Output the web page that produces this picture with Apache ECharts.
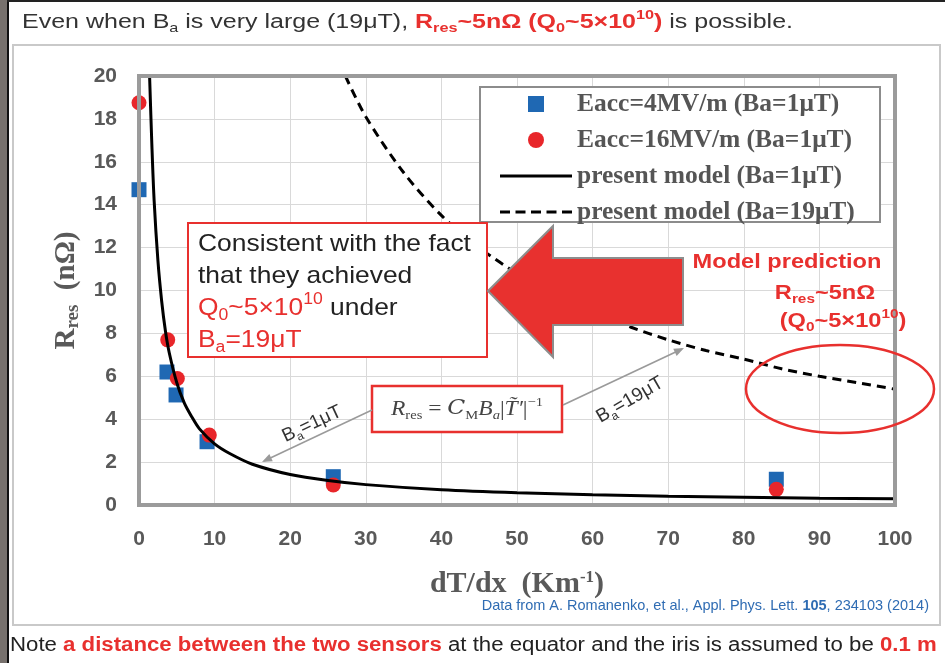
<!DOCTYPE html>
<html><head><meta charset="utf-8">
<script src="https://cdn.jsdelivr.net/npm/echarts@6/dist/echarts.min.js"></script>
<style>html,body{margin:0;padding:0;background:#fff}#c{width:945px;height:663px}</style>
</head><body><div id="c"></div>
<script>
// ---- data ----
const blueX = [0, 3.7, 4.9, 9.0, 25.7, 84.3];
const blueY = [14.7, 6.2, 5.13, 2.95, 1.32, 1.2];
const redX = [0, 3.8, 5.07, 9.3, 25.7, 84.3];
const redY = [18.75, 7.7, 5.9, 3.26, 0.93, 0.73];
const solidX = [1.4, 1.7, 2, 2.5, 3, 3.5, 4, 5, 6, 7, 8, 10, 12, 15, 20, 25, 30, 40, 50, 60, 70, 80, 90, 100];
const solidY = [20, 16.8, 14.2, 11.4, 9.5, 8.1, 7.1, 5.7, 4.75, 4.1, 3.55, 2.85, 2.4, 1.9, 1.42, 1.14, 0.95, 0.71, 0.57, 0.48, 0.41, 0.36, 0.32, 0.29];
const dashX = [27.3, 30, 35, 40, 45, 50, 55, 60, 65, 70, 75, 80, 85, 90, 95, 100];
const dashY = [20, 18.1, 15.5, 13.5, 12.0, 10.8, 9.85, 9.0, 8.3, 7.7, 7.2, 6.8, 6.35, 6.0, 5.7, 5.4];
const seriesNames = ['Eacc=4MV/m (Ba=1μT)', 'Eacc=16MV/m (Ba=1μT)', 'present model (Ba=1μT)', 'present model (Ba=19μT)'];
const xMin = 0, xMax = 100, xStep = 10;
const yMin = 0, yMax = 20, yStep = 2;

const zip = (a, b) => a.map((v, i) => [v, b[i]]);
const RED = '#e8302e';
const SANS = 'Liberation Sans, Arial, sans-serif';
const SERIF = 'Liberation Serif, Times New Roman, serif';

const chart = echarts.init(document.getElementById('c'));
function subStyles(fs, color, weight) {
  const sm = Math.round(fs * 0.65);
  const mk = (c, w, size, lh, va) => ({fontSize: size, fill: c, fontWeight: w, fontFamily: SANS, lineHeight: lh, verticalAlign: va});
  return {
    t: mk(color, weight, fs, fs + 6, 'middle'),
    s: mk(color, weight, sm, sm, 'bottom'),
    p: mk(color, weight, sm, sm, 'top'),
    rt: mk(RED, 'bold', fs, fs + 6, 'middle'),
    rs: mk(RED, 'bold', sm, sm, 'bottom'),
    rp: mk(RED, 'bold', sm, sm, 'top'),
    rn: mk(RED, 'normal', fs, fs + 6, 'middle'),
    rns: mk(RED, 'normal', sm, sm, 'bottom'),
    rnp: mk(RED, 'normal', sm, sm, 'top')
  };
}

function arrowHead(x1, y1, x2, y2, len, w) {
  const a = Math.atan2(y2 - y1, x2 - x1);
  const bx = x2 - len * Math.cos(a), by = y2 - len * Math.sin(a);
  const px = -Math.sin(a) * w, py = Math.cos(a) * w;
  return [[x2, y2], [bx + px, by + py], [bx - px, by - py]];
}

const boxRich = subStyles(24, '#222', 'normal');
boxRich.t.lineHeight = 32; boxRich.rn.lineHeight = 32;

const graphics = [
  // slide frame decorations
  {type: 'rect', shape: {x: 0, y: 0, width: 7, height: 663}, style: {fill: '#77716d'}, z: 1},
  {type: 'rect', shape: {x: 7, y: 0, width: 2, height: 663}, style: {fill: '#111'}, z: 1},
  {type: 'rect', shape: {x: 7, y: 0, width: 938, height: 2}, style: {fill: '#222'}, z: 1},
  {type: 'rect', shape: {x: 13, y: 45, width: 927, height: 580}, style: {fill: 'none', stroke: '#c9c9c9', lineWidth: 2}, z: 1},
  // title
  {type: 'text', x: 22, y: 22, scaleX: 1.25, z: 10, style: {
    text: '{t|Even when B}{s|a}{t| is very large (19μT), }{rt|R}{rs|res}{rt|~5nΩ (Q}{rs|0}{rt|~5×10}{rp|10}{rt|)}{t| is possible.}',
    rich: subStyles(20, '#333', 'normal'), verticalAlign: 'middle'}},
  // bottom note
  {type: 'text', x: 10, y: 645, scaleX: 1.11, z: 10, style: {
    text: '{t|Note }{rt|a distance between the two sensors}{t| at the equator and the iris is assumed to be }{rt|0.1 m}',
    rich: subStyles(20, '#222', 'normal'), verticalAlign: 'middle'}},
  // data source
  {type: 'text', x: 929, y: 606, z: 10, style: {
    text: '{a|Data from A. Romanenko, et al., Appl. Phys. Lett. }{b|105}{a|, 234103 (2014)}',
    align: 'right', verticalAlign: 'middle',
    rich: {a: {fontSize: 14.5, fontFamily: SANS, fill: '#2f6cb3'}, b: {fontSize: 14.5, fontFamily: SANS, fill: '#2f6cb3', fontWeight: 'bold'}}}},
  // legend box
  {type: 'rect', shape: {x: 480, y: 87, width: 400, height: 135}, style: {fill: '#fff', stroke: '#8c8c8c', lineWidth: 2}, z: 3},
  // consistent box
  {type: 'rect', shape: {x: 188, y: 223, width: 299, height: 134}, style: {fill: '#fff', stroke: RED, lineWidth: 2}, z: 6},
  {type: 'text', x: 198, y: 228, scaleX: 1.1, z: 7, style: {
    text: '{t|Consistent with the fact}\n{t|that they achieved}\n{rn|Q}{rns|0}{rn|~5×10}{rnp|10}{t| under}\n{rn|B}{rns|a}{rn|=19μT}',
    rich: boxRich}},
  // big arrow
  {type: 'polygon', shape: {points: [[488, 291], [553, 226], [553, 258], [683, 258], [683, 325], [553, 325], [553, 357]]},
    style: {fill: '#e8312f', stroke: '#8d8d8d', lineWidth: 2}, z: 6},
  // model prediction
  {type: 'text', x: 787, y: 262, scaleX: 1.18, z: 7, style: {text: 'Model prediction', fill: RED, font: 'bold 20px ' + SANS, align: 'center', verticalAlign: 'middle'}},
  {type: 'text', x: 825, y: 293, scaleX: 1.18, z: 7, style: {text: '{rt|R}{rs|res}{rt|~5nΩ}', rich: subStyles(20, RED, 'bold'), align: 'center', verticalAlign: 'middle'}},
  {type: 'text', x: 843, y: 321, scaleX: 1.18, z: 7, style: {text: '{rt|(Q}{rs|0}{rt|~5×10}{rp|10}{rt|)}', rich: subStyles(20, RED, 'bold'), align: 'center', verticalAlign: 'middle'}},
  {type: 'ellipse', shape: {cx: 840, cy: 389, rx: 94, ry: 44}, style: {fill: 'none', stroke: RED, lineWidth: 2.5}, z: 7},
  // formula box
  {type: 'rect', shape: {x: 372, y: 386, width: 190, height: 46}, style: {fill: '#fff', stroke: RED, lineWidth: 2.5}, z: 6},
  {type: 'text', x: 467, y: 409, scaleX: 1.12, z: 7, style: {
    text: '{i|R}{s|res}{n| = }{c|C}{s|M}{i|B}{si|a}{n||}{i|T̃′}{n||}{p|−1}',
    align: 'center', verticalAlign: 'middle',
    rich: {
      i: {fontSize: 21, fontStyle: 'italic', fontFamily: SERIF, fill: '#444', lineHeight: 26, verticalAlign: 'middle'},
      c: {fontSize: 21, fontStyle: 'italic', fontFamily: 'DejaVu Serif, serif', fill: '#444', lineHeight: 26, verticalAlign: 'middle'},
      n: {fontSize: 21, fontFamily: SERIF, fill: '#444', lineHeight: 26, verticalAlign: 'middle'},
      s: {fontSize: 13, fontFamily: SERIF, fill: '#444', lineHeight: 13, verticalAlign: 'bottom'},
      si: {fontSize: 13, fontStyle: 'italic', fontFamily: SERIF, fill: '#444', lineHeight: 13, verticalAlign: 'bottom'},
      p: {fontSize: 13, fontFamily: SERIF, fill: '#444', lineHeight: 13, verticalAlign: 'top'}
    }}},
  // gray pointer arrows
  {type: 'line', shape: {x1: 372, y1: 410, x2: 264, y2: 461}, style: {stroke: '#9a9a9a', lineWidth: 1.5}, z: 6},
  {type: 'polygon', shape: {points: arrowHead(372, 410, 262, 462, 10, 4)}, style: {fill: '#9a9a9a'}, z: 6},
  {type: 'line', shape: {x1: 563, y1: 405, x2: 682, y2: 349}, style: {stroke: '#9a9a9a', lineWidth: 1.5}, z: 6},
  {type: 'polygon', shape: {points: arrowHead(563, 405, 684, 348, 10, 4)}, style: {fill: '#9a9a9a'}, z: 6},
  // rotated labels
  {type: 'text', x: 312, y: 424, rotation: 25 * Math.PI / 180, z: 7, style: {text: '{t|B}{s|a}{t|=1μT}', rich: subStyles(19, '#333', 'normal'), align: 'center', verticalAlign: 'middle'}},
  {type: 'text', x: 630, y: 400, rotation: 30 * Math.PI / 180, z: 7, style: {text: '{t|B}{s|a}{t|=19μT}', rich: subStyles(19, '#333', 'normal'), align: 'center', verticalAlign: 'middle'}}
];

const option = {
  animation: false,
  backgroundColor: '#fff',
  grid: {left: 139, right: 50, top: 76, bottom: 158, show: true, borderColor: '#9b9b9b', borderWidth: 4, backgroundColor: 'transparent', z: 5},
  xAxis: {
    type: 'value', min: xMin, max: xMax, interval: xStep,
    axisLine: {show: false}, axisTick: {show: false},
    splitLine: {lineStyle: {color: '#d9d9d9', width: 1}},
    axisLabel: {margin: 24, fontSize: 21, fontWeight: 'bold', color: '#595959', fontFamily: SANS},
    name: 'dT/dx  (Km{sup|-1})', nameLocation: 'middle', nameGap: 64,
    nameTextStyle: {fontSize: 30, fontWeight: 'bold', color: '#595959', fontFamily: SERIF,
      rich: {sup: {fontSize: 17, fontWeight: 'bold', color: '#595959', fontFamily: SERIF, verticalAlign: 'top', lineHeight: 17}}}
  },
  yAxis: {
    type: 'value', min: yMin, max: yMax, interval: yStep,
    axisLine: {show: false}, axisTick: {show: false},
    splitLine: {lineStyle: {color: '#d9d9d9', width: 1}},
    axisLabel: {margin: 22, fontSize: 21, fontWeight: 'bold', color: '#595959', fontFamily: SANS},
    name: 'R{sub|res}  (nΩ)', nameLocation: 'middle', nameGap: 56, nameRotate: 90,
    nameTextStyle: {fontSize: 29, fontWeight: 'bold', color: '#595959', fontFamily: SERIF, lineHeight: 32, verticalAlign: 'middle',
      rich: {sub: {fontSize: 19, fontWeight: 'bold', color: '#595959', fontFamily: SERIF, verticalAlign: 'bottom', lineHeight: 19}}}
  },
  legend: {
    left: 495, top: 86, orient: 'vertical', itemWidth: 72, itemHeight: 16, itemGap: 10, z: 8,
    data: [
      {name: seriesNames[0], icon: 'path://M0,0L1,0L1,1L0,1Z'},
      {name: seriesNames[1], icon: 'circle'},
      {name: seriesNames[2], icon: 'path://M0,0H72V3H0Z'},
      {name: seriesNames[3], icon: 'path://M0,0H10V3H0Z M15.5,0H25.5V3H15.5Z M31,0H41V3H31Z M46.5,0H56.5V3H46.5Z M62,0H72V3H62Z'}
    ],
    textStyle: {fontFamily: SERIF, fontWeight: 'bold', fontSize: 25.5, color: '#555', lineHeight: 25, padding: [0, 0, 0, 0]},
    itemStyle: {borderWidth: 0}
  },
  series: [
    {name: seriesNames[0], type: 'scatter', data: zip(blueX, blueY), symbol: 'rect', symbolSize: 15, itemStyle: {color: '#1f68b3', opacity: 1}, z: 3},
    {name: seriesNames[1], type: 'scatter', data: zip(redX, redY), symbol: 'circle', symbolSize: 15, itemStyle: {color: '#e8262a', opacity: 1}, z: 3},
    {name: seriesNames[2], type: 'line', data: zip(solidX, solidY), smooth: 0.3, showSymbol: false, symbol: 'none', clip: true,
      lineStyle: {color: '#000', width: 3}, itemStyle: {color: '#000'}, z: 4},
    {name: seriesNames[3], type: 'line', data: zip(dashX, dashY), smooth: 0.3, showSymbol: false, symbol: 'none', clip: true,
      lineStyle: {color: '#000', width: 3, type: [9, 6]}, itemStyle: {color: '#000'}, z: 4}
  ],
  graphic: graphics
};
chart.setOption(option);
</script></body></html>
